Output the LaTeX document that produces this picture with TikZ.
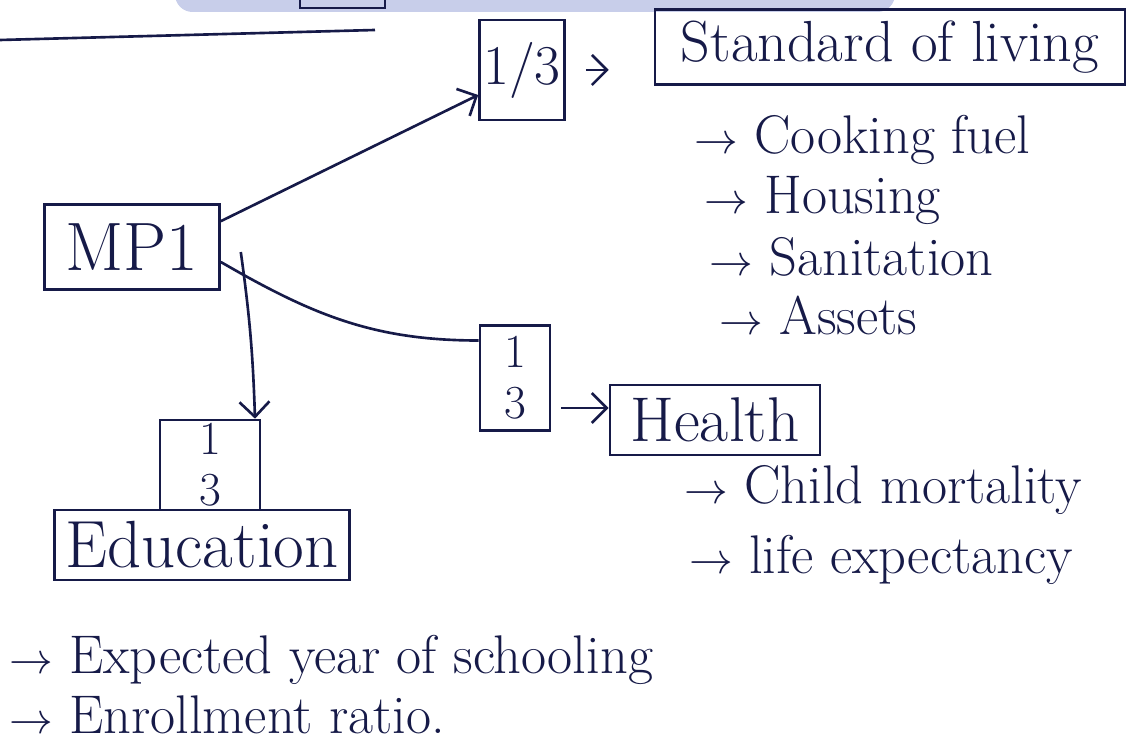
\documentclass[tikz,border=0pt]{standalone}
\usetikzlibrary{arrows.meta,positioning}

\definecolor{ink}{RGB}{22,26,72}
\definecolor{band}{RGB}{200,206,234}

\begin{document}
\begin{tikzpicture}[
  x=0.02cm, y=-0.02cm,
  box/.style={draw=ink, line width=1.5pt, text=ink, align=center,
              font=\fontsize{33}{36}\selectfont, inner sep=2pt},
  frac/.style={box, font=\fontsize{27}{29}\selectfont, inner sep=0pt},
  item/.style={anchor=west, text=ink, font=\fontsize{31}{34}\selectfont},
  arr/.style={-{Straight Barb[length=3mm]}, draw=ink, line width=1.5pt}
]
\useasboundingbox (0,0) rectangle (1136,742);

% top of the page is cut off: only the band and a ruled line show
\fill[band, rounded corners=10pt] (175,-20) rectangle (895,12);
\draw[ink, line width=1.5pt] (300,-5) rectangle (385,8);
\draw[ink, line width=1.5pt] (0,40) -- (375,30);

% index and its three thirds
\node[box, font=\fontsize{39}{40}\selectfont, minimum width=3.5cm, minimum height=1.7cm] (mpi) at (132,247) {MP1};
\node[frac, font=\fontsize{32}{34}\selectfont, minimum width=1.7cm, minimum height=2cm] (thirdSL) at (522,70) {1/3};
\node[frac, minimum width=1.4cm, minimum height=2.1cm] (thirdH) at (515,378) {1\\3};
\node[frac, minimum width=2cm, minimum height=1.8cm] (thirdE) at (210,465) {1\\3};

% dimensions
\node[box, minimum width=9.4cm, minimum height=1.5cm] (living) at (890,47) {Standard of living};
\node[box, font=\fontsize{36}{38}\selectfont, minimum width=4.2cm, minimum height=1.4cm] (health) at (715,420) {Health};
\node[box, font=\fontsize{38}{40}\selectfont, minimum width=5.9cm, minimum height=1.4cm] (edu) at (202,545) {Education};

% indicators
\node[item] (fuel)   at (688,140) {$\rightarrow$ Cooking fuel};
\node[item] (house)  at (698,200) {$\rightarrow$ Housing};
\node[item] (sanit)  at (703,257) {$\rightarrow$ Sanitation};
\node[item] (assets) at (713,315) {$\rightarrow$ Assets};
\node[item] (child)  at (678,490) {$\rightarrow$ Child mortality};
\node[item] (life)   at (683,560) {$\rightarrow$ life expectancy};
\node[item] (school) at (3,660) {$\rightarrow$ Expected year of schooling};
\node[item] (enrol)  at (3,715) {$\rightarrow$ Enrollment ratio.};

% connectors
\draw[arr] (mpi.north east) ++(0,18) -- (thirdSL.west |- 0,95);
\draw[ink, line width=1.5pt] ([yshift=-0.3cm]mpi.east) to[out=-30, in=180] ([yshift=0.75cm]thirdH.west);
\draw[arr] ([xshift=0.4cm, yshift=-0.1cm]mpi.east) to[bend left=3] (thirdE.north -| 255,0);
\draw[arr, shorten <=0.4cm, shorten >=0.9cm] (thirdSL) -- (thirdSL.east -| living.west);
\draw[arr, shorten <=0.2cm] ([yshift=-0.6cm]thirdH.east) -- ([yshift=-0.6cm]thirdH.east -| health.west);
\end{tikzpicture}
\end{document}
